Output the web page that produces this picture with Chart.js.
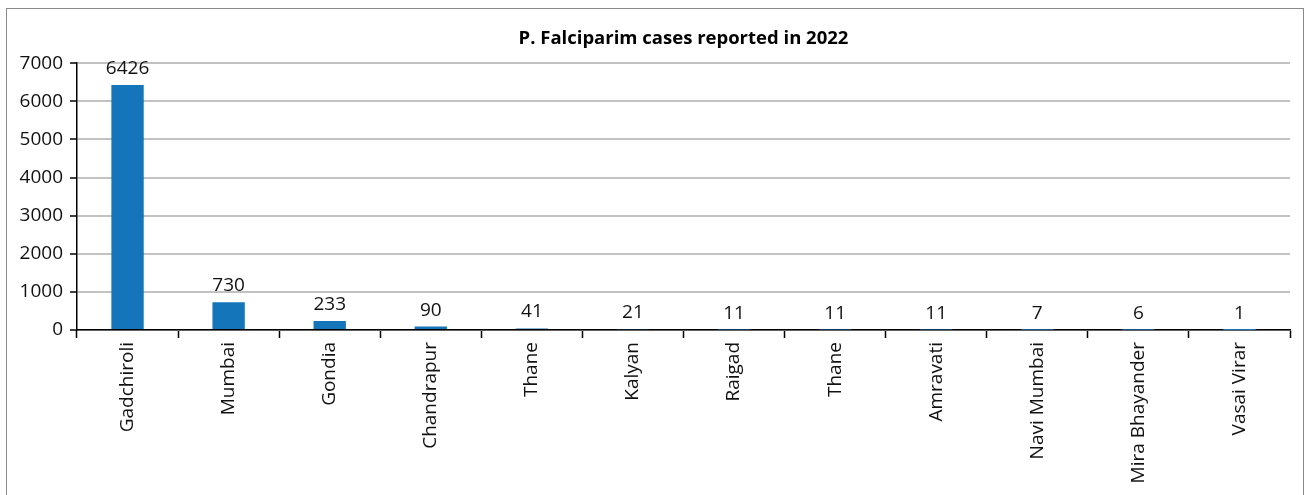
<!DOCTYPE html>
<html>
<head>
<meta charset="utf-8">
<script src="https://cdn.jsdelivr.net/npm/chart.js@4.4.1/dist/chart.umd.min.js"></script>
<style>
  html, body { margin: 0; padding: 0; background: #fff; overflow: hidden; }
  #wrap { position: absolute; left: 0; top: 0; width: 1307px; height: 495px; }
  #frame { position: absolute; left: 6px; top: 8px; width: 1298px; height: 500px; border: 1.5px solid #8a8a8a; box-sizing: border-box; pointer-events: none; }
</style>
</head>
<body>
<div id="wrap"><canvas id="c" width="1307" height="495"></canvas></div>
<div id="frame"></div>
<script>
const categories = ["Gadchiroli", "Mumbai", "Gondia", "Chandrapur", "Thane", "Kalyan", "Raigad", "Thane", "Amravati", "Navi Mumbai", "Mira Bhayander", "Vasai Virar"];
const cases = [6426, 730, 233, 90, 41, 21, 11, 11, 11, 7, 6, 1];
const yTicks = [0, 1000, 2000, 3000, 4000, 5000, 6000, 7000];
const chartTitle = "P. Falciparim cases reported in 2022";

const FONT = "'Open Sans', 'Noto Sans', sans-serif";

const valueLabels = {
  id: 'valueLabels',
  afterDatasetsDraw(chart) {
    const ctx = chart.ctx;
    const meta = chart.getDatasetMeta(0);
    ctx.save();
    ctx.font = "19px " + FONT;
    ctx.fillStyle = '#111';
    ctx.textAlign = 'center';
    ctx.textBaseline = 'alphabetic';
    meta.data.forEach((bar, i) => {
      ctx.fillText(String(cases[i]), bar.x, bar.y - 11);
    });
    ctx.restore();
  }
};

new Chart(document.getElementById('c'), {
  type: 'bar',
  data: {
    labels: categories,
    datasets: [{
      data: cases,
      backgroundColor: '#1575bb',
      borderWidth: 0,
      barPercentage: 0.32,
      categoryPercentage: 1.0
    }]
  },
  options: {
    responsive: false,
    animation: false,
    layout: { padding: { left: 6, right: 17, top: 9, bottom: 0 } },
    plugins: {
      legend: { display: false },
      tooltip: { enabled: false },
      title: {
        display: true,
        text: chartTitle,
        fullSize: false,
        color: '#000',
        font: { family: FONT, size: 18.5, weight: 'bold', lineHeight: 1.2 },
        padding: { top: 19, bottom: 13 }
      }
    },
    scales: {
      x: {
        offset: true,
        grid: {
          display: true,
          offset: true,
          drawOnChartArea: false,
          drawTicks: true,
          tickLength: 8,
          tickColor: '#000',
          tickWidth: 1.5
        },
        border: { display: true, color: '#000', width: 1.5 },
        ticks: {
          color: '#111',
          font: { family: FONT, size: 19 },
          minRotation: 90,
          maxRotation: 90,
          autoSkip: false,
          padding: 4
        },
        afterFit(scale) { scale.height = 165; }
      },
      y: {
        min: 0,
        max: 7000,
        afterBuildTicks(scale) { scale.ticks = yTicks.map(v => ({ value: v })); },
        grid: {
          color: '#c2c2c2',
          lineWidth: 2,
          drawTicks: true,
          tickLength: 7,
          tickColor: '#000',
          tickWidth: 1.5
        },
        border: { display: true, color: '#000', width: 1.5 },
        ticks: {
          color: '#111',
          font: { family: FONT, size: 19 },
          padding: 7,
          callback: (v) => String(v)
        },
        afterFit(scale) { scale.width = 71; }
      }
    }
  },
  plugins: [valueLabels]
});
</script>
</body>
</html>
